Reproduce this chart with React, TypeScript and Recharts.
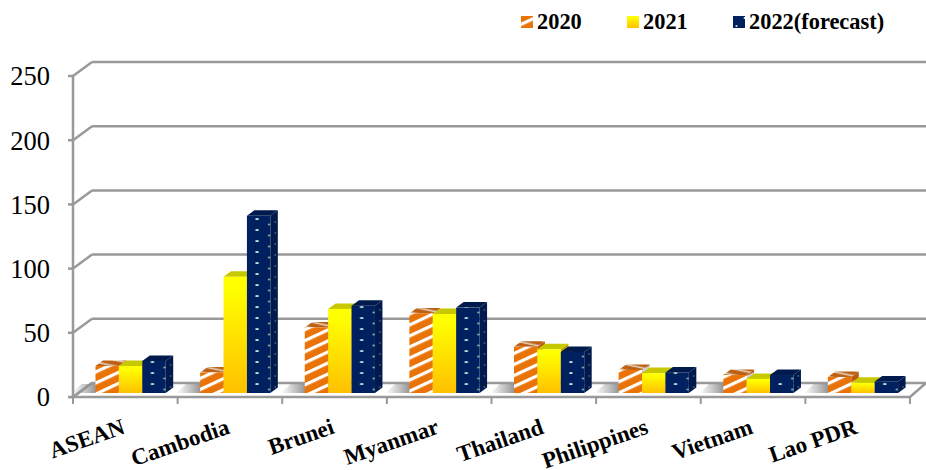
import { Bar, BarChart, CartesianGrid, Legend, XAxis, YAxis } from "recharts";

const categories = ["ASEAN", "Cambodia", "Brunei", "Myanmar", "Thailand", "Philippines", "Vietnam", "Lao PDR"];
const values2020 = [21, 16, 51, 62, 36, 18, 14, 12.5];
const values2021 = [21, 90.5, 65.5, 61.5, 34, 15.5, 11, 8];
const values2022 = [25, 138, 68, 66.5, 32, 16, 14, 9];
const yTicks = [0, 50, 100, 150, 200, 250];

const data = categories.map((name, i) => ({
  name,
  y2020: values2020[i],
  y2021: values2021[i],
  y2022: values2022[i],
}));

const FONT = '"Liberation Serif", "Times New Roman", serif';
const GREY = "#999999";
const WIDTH = 926;
const HEIGHT = 470;
const AXIS_HEIGHT = 73;
const MARGIN = { top: 76, right: 16, bottom: 0, left: 0 };
const CATEGORY_STEP = (WIDTH - 73 - MARGIN.right) / categories.length;

// depth of the back wall and of each bar
const WALL_DX = 19;
const WALL_DY = 14;
const BAR_DX = 7.5;
const BAR_DY = 5.5;
const BAR_SHIFT_X = 5.5;
const BAR_SHIFT_Y = 4;

// The dot pattern repeats once per category so every navy column gets the same dots
const Defs = () => (
  <svg width={0} height={0} style={{ position: "absolute" }}>
    <defs>
      <pattern id="hatch" width="10" height="10" patternUnits="userSpaceOnUse" patternTransform="rotate(-25)">
        <rect width="10" height="10" fill="#ea7308" />
        <rect y="6" width="10" height="3.2" fill="#ffffff" />
      </pattern>
      <pattern id="hatchTop" width="6" height="6" patternUnits="userSpaceOnUse" patternTransform="rotate(12)">
        <rect width="6" height="6" fill="#bd6012" />
        <rect y="3.5" width="6" height="1.6" fill="#e4d4c4" />
      </pattern>
      <pattern id="hatchSide" width="10" height="10" patternUnits="userSpaceOnUse" patternTransform="rotate(-25)">
        <rect width="10" height="10" fill="#bd5a0a" />
        <rect y="6" width="10" height="3" fill="#d0d0d0" />
      </pattern>
      <linearGradient id="sun" x1="0" y1="0" x2="0" y2="1">
        <stop offset="0.1" stopColor="#ffff00" />
        <stop offset="1" stopColor="#ffc000" />
      </linearGradient>
      <pattern id="dots" width={CATEGORY_STEP} height="11" patternUnits="userSpaceOnUse">
        <rect width={CATEGORY_STEP} height="11" fill="#002060" />
        <ellipse cx="47.8" cy="10" rx="1.8" ry="1.1" fill="#bfe6d8" />
        <ellipse cx="60" cy="4.5" rx="1.5" ry="1" fill="#7fa8a0" />
      </pattern>
      <pattern id="dotsSide" width={CATEGORY_STEP} height="11" patternUnits="userSpaceOnUse">
        <rect width={CATEGORY_STEP} height="11" fill="#001a4d" />
        <circle cx="66" cy="2" r="0.7" fill="#6f9890" />
      </pattern>
      <pattern id="legendDots" width="12" height="12" patternUnits="userSpaceOnUse">
        <rect width="12" height="12" fill="#002060" />
        <circle cx="3.5" cy="10" r="1.1" fill="#bfe6d8" />
        <circle cx="11.5" cy="2" r="0.9" fill="#ffffff" />
      </pattern>
      <linearGradient id="floorShade" x1="0" y1="0" x2="1" y2="0">
        <stop offset="0" stopColor="#999999" stopOpacity="0" />
        <stop offset="1" stopColor="#8c8c8c" stopOpacity="1" />
      </linearGradient>
    </defs>
  </svg>
);

// Front, top and side faces of one extruded column
const columnShape = (front: string, top: string, side: string, withShadow: boolean) => (props: any) => {
  const x = props.x + BAR_SHIFT_X;
  const y = props.y - BAR_SHIFT_Y;
  const w = props.width;
  const h = props.height;
  return (
    <g>
      {withShadow && (
        <polygon
          points={`${x - 24},${y + h} ${x - 14},${y + h - 9} ${x + 2},${y + h - 9} ${x + 2},${y + h}`}
          fill="url(#floorShade)"
        />
      )}
      <polygon
        points={`${x + w},${y} ${x + w + BAR_DX},${y - BAR_DY} ${x + w + BAR_DX},${y + h - BAR_DY} ${x + w},${y + h}`}
        fill={side}
      />
      <polygon
        points={`${x},${y} ${x + BAR_DX},${y - BAR_DY} ${x + w + BAR_DX},${y - BAR_DY} ${x + w},${y}`}
        fill={top}
      />
      <rect x={x} y={y} width={w} height={h} fill={front} />
    </g>
  );
};

// Back wall line, slanted wall edge and left tick for one y value; the zero line also gets the floor
const wallLine = (props: any) => {
  const { x1, x2, y1, index } = props;
  const isFloor = Math.abs(y1 - (HEIGHT - AXIS_HEIGHT)) < 1;
  return (
    <g key={`wall-${index}`}>
      {isFloor && (
        <polygon
          points={`${x1},${y1} ${x1 + WALL_DX},${y1 - WALL_DY} ${x2 + WALL_DX - 3},${y1 - WALL_DY} ${x2},${y1}`}
          fill="#ffffff"
          stroke={GREY}
          strokeWidth={2.5}
        />
      )}
      {!isFloor && (
        <line x1={x1 + WALL_DX} y1={y1 - WALL_DY} x2={WIDTH} y2={y1 - WALL_DY} stroke={GREY} strokeWidth={2.5} />
      )}
      <line x1={x1} y1={y1} x2={x1 + WALL_DX} y2={y1 - WALL_DY} stroke={GREY} strokeWidth={2.5} />
    </g>
  );
};

// Slanted category name plus the tick marks between categories
const CategoryTick = (props: any) => {
  const { x, y, payload, index } = props;
  const left = x - CATEGORY_STEP / 2;
  const right = x + CATEGORY_STEP / 2;
  return (
    <g>
      <line x1={left} y1={y} x2={left} y2={y + 7} stroke={GREY} strokeWidth={2} />
      {index === categories.length - 1 && (
        <line x1={right} y1={y} x2={right} y2={y + 7} stroke={GREY} strokeWidth={2} />
      )}
      <text
        x={x + 1}
        y={y + 36}
        textAnchor="end"
        transform={`rotate(-19 ${x + 1} ${y + 36})`}
        fontFamily={FONT}
        fontWeight="bold"
        fontSize={23}
        fill="#000000"
      >
        {payload.value}
      </text>
    </g>
  );
};

const legendSwatches: Record<string, string> = {
  y2020: "url(#hatch)",
  y2021: "url(#sun)",
  y2022: "url(#legendDots)",
};
const legendLefts = [521, 627, 733];

// Zero height keeps the legend from taking space out of the plot
const TopLegend = ({ payload }: any) => (
  <div style={{ position: "relative", width: WIDTH, height: 0 }}>
    {(payload ?? []).map((item: any, i: number) => (
      <div
        key={item.dataKey}
        style={{
          position: "absolute",
          left: legendLefts[i],
          top: 9,
          display: "flex",
          alignItems: "center",
          fontFamily: FONT,
          fontWeight: "bold",
          fontSize: 22.4,
          lineHeight: "26px",
          color: "#000000",
          whiteSpace: "nowrap",
        }}
      >
        <svg width={12} height={12} style={{ marginRight: 4 }}>
          <rect width={12} height={12} fill={legendSwatches[item.dataKey]} />
        </svg>
        {item.value}
      </div>
    ))}
  </div>
);

export default function App() {
  return (
    <div style={{ position: "absolute", left: 0, top: 0, width: WIDTH, height: HEIGHT, background: "#ffffff" }}>
      <Defs />
      <BarChart width={WIDTH} height={HEIGHT} data={data} margin={MARGIN} barSize={23.4} barGap={0}>
        <CartesianGrid horizontal={wallLine} vertical={false} />
        <XAxis
          dataKey="name"
          interval={0}
          axisLine={false}
          tickLine={false}
          tickSize={0}
          tickMargin={0}
          tick={<CategoryTick />}
          height={AXIS_HEIGHT}
        />
        <YAxis
          width={73}
          domain={[0, 250]}
          ticks={yTicks}
          interval={0}
          axisLine={{ stroke: GREY, strokeWidth: 2.5 }}
          tickLine={{ stroke: GREY, strokeWidth: 2.5 }}
          tickSize={5}
          tickMargin={18}
          tick={{ fontFamily: FONT, fontSize: 26.5, fill: "#000000" }}
        />
        <Legend verticalAlign="top" align="left" content={<TopLegend />} wrapperStyle={{ left: 0, top: 0 }} />
        <Bar
          dataKey="y2020"
          name="2020"
          isAnimationActive={false}
          fill="#ea7308"
          shape={columnShape("url(#hatch)", "url(#hatchTop)", "url(#hatchSide)", true)}
        />
        <Bar
          dataKey="y2021"
          name="2021"
          isAnimationActive={false}
          fill="#ffff00"
          shape={columnShape("url(#sun)", "#c8c800", "#b8a000", false)}
        />
        <Bar
          dataKey="y2022"
          name="2022(forecast)"
          isAnimationActive={false}
          fill="#002060"
          shape={columnShape("url(#dots)", "#001a4d", "url(#dotsSide)", false)}
        />
      </BarChart>
    </div>
  );
}
